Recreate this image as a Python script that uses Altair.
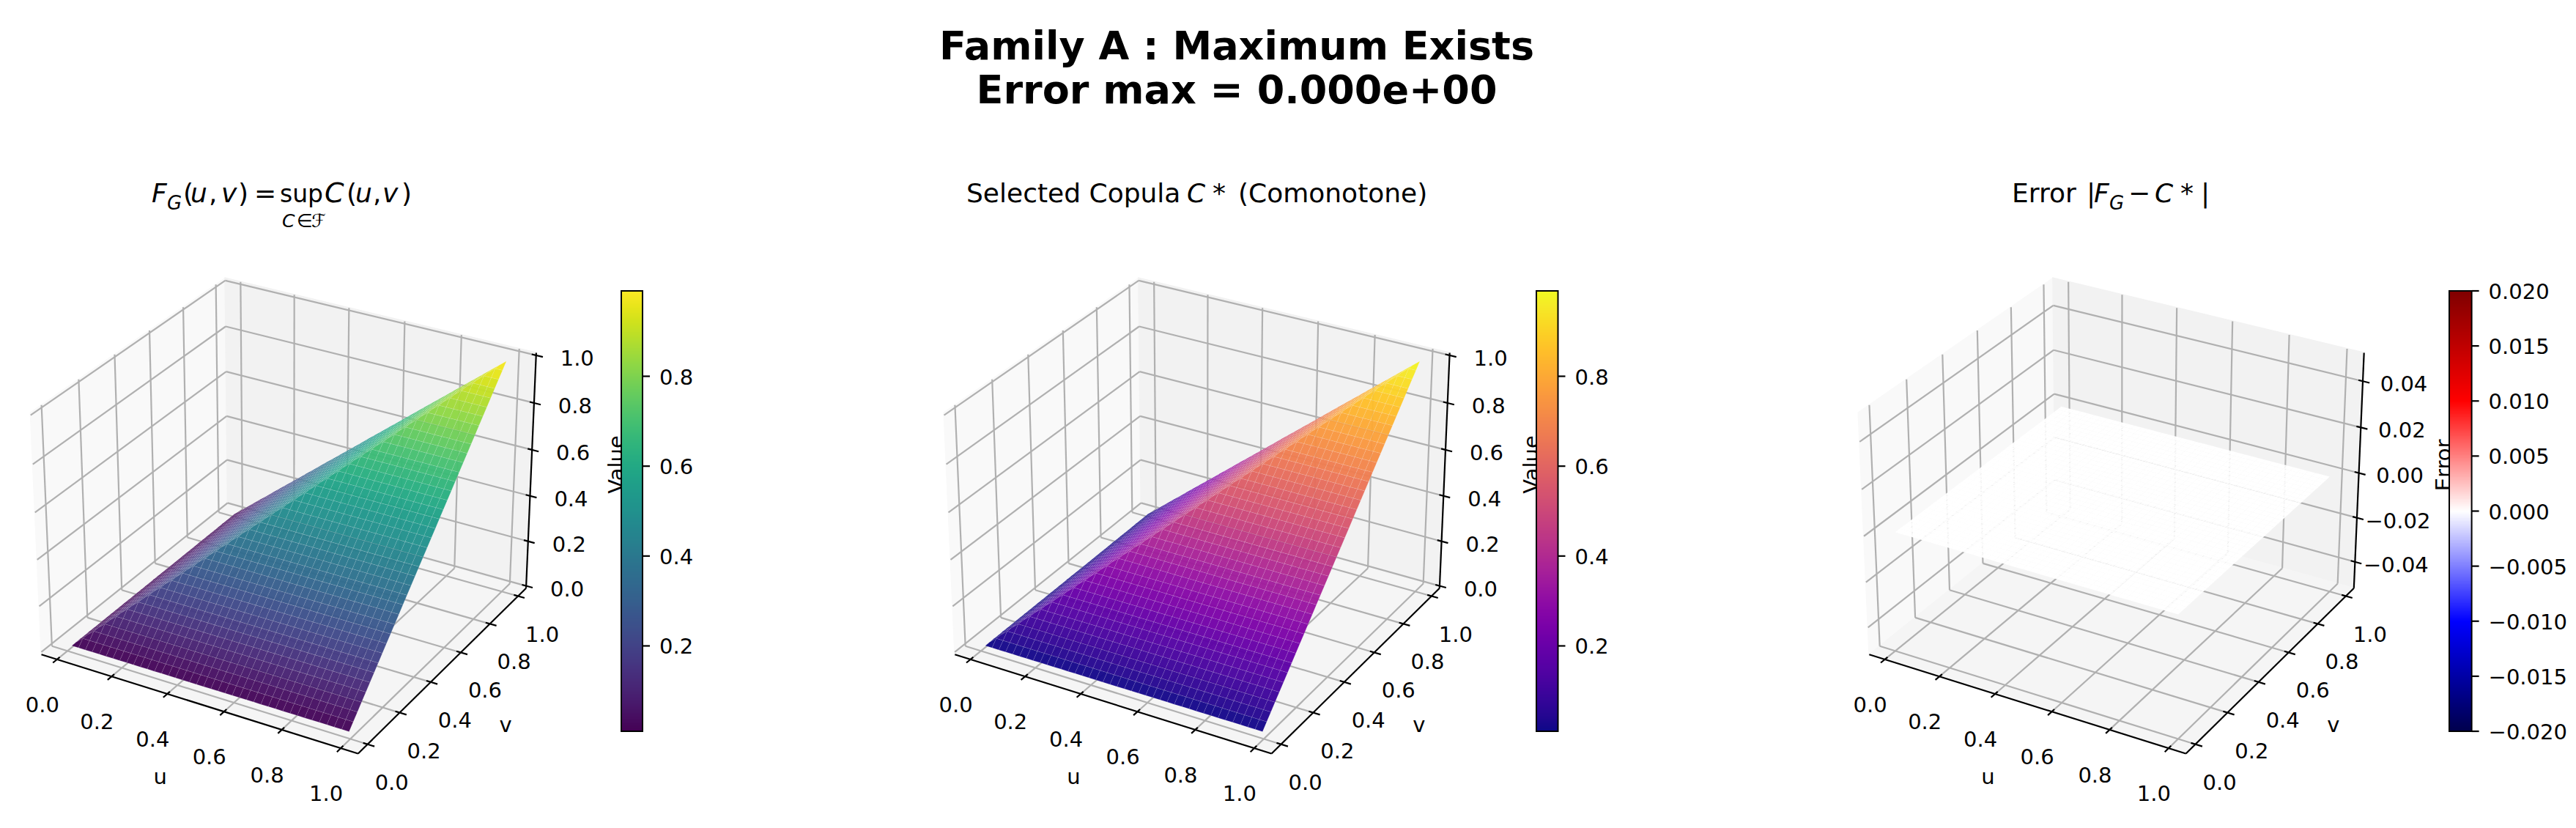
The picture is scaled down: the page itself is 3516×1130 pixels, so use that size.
import numpy as np
import pandas as pd
import altair as alt

# ---- values ----
GRID = [0.01, 0.035, 0.060, 0.085, 0.111, 0.136, 0.161, 0.186, 0.211, 0.236,
        0.261, 0.286, 0.312, 0.337, 0.362, 0.387, 0.412, 0.437, 0.462, 0.487,
        0.513, 0.538, 0.563, 0.588, 0.613, 0.638, 0.663, 0.688, 0.714, 0.739,
        0.764, 0.789, 0.814, 0.839, 0.864, 0.889, 0.915, 0.940, 0.965, 0.99]
UV_TICKS = [0.0, 0.2, 0.4, 0.6, 0.8, 1.0]
Z_TICKS_A = [0.0, 0.2, 0.4, 0.6, 0.8, 1.0]
Z_TICKS_E = [-0.04, -0.02, 0.0, 0.02, 0.04]
CB_TICKS_A = [0.2, 0.4, 0.6, 0.8]
CB_TICKS_E = [-0.02, -0.015, -0.01, -0.005, 0.0, 0.005, 0.01, 0.015, 0.02]
XY_LIM = (-0.058, 1.058)
Z_LIM_A = (-0.0104, 1.0104)
Z_LIM_E = (-0.0521, 0.0521)
CB_DOM_A = [0.01, 0.99]
CB_DOM_E = [-0.02, 0.02]
SEISMIC_DOM = [-0.02, -0.01, 0.0, 0.01, 0.02]
SEISMIC_RANGE = ["#00004c", "#0000ff", "#ffffff", "#ff0000", "#7f0000"]

# ---- layout (pixels of the 3516x1130 page) ----
W, H = 3500, 1114
FONT = "DejaVu Sans"
OFFSETS = [0.0, 1246.8, 2494.8]
CB_X = [(848, 877), (2097, 2126.5), (3343, 3373.6)]
CB_Y = (397, 998)
GRID_C, AXIS_C = "#b0b0b0", "#000000"
ELEV = np.radians(28.5)
AZIM = np.radians(-60)
DIST = 10.0

box = np.array([4.0, 4.0, 3.0])
box *= 1.8294640721620434 * 25 / 24 / np.linalg.norm(box)
R = box / 2
wv = np.array([np.cos(ELEV) * np.cos(AZIM), np.cos(ELEV) * np.sin(AZIM), np.sin(ELEV)])
uv = np.cross([0, 0, 1.0], wv)
uv /= np.linalg.norm(uv)
vv = np.cross(wv, uv)


def camera(q):
    """q: unit-cube coordinates 0..1; returns perspective coordinates and depth."""
    p = np.asarray(q, float) * box - R
    d = DIST - p @ wv
    return (p @ uv) / d, (p @ vv) / d, d


# screen fit from six box corners measured on the first panel
CAL_Q = [(0, 0, 0), (1, 0, 0), (1, 1, 0), (1, 1, 1), (0, 1, 1), (0, 0, 1)]
CAL_X = [55.7, 489.0, 717.7, 732.3, 306.7, 42.7]
CAL_Y = [894.0, 1027.7, 803.0, 480.0, 380.0, 564.0]
cam = [camera(q) for q in CAL_Q]
ax_, bx_ = np.polyfit([c[0] for c in cam], CAL_X, 1)
ay_, by_ = np.polyfit([c[1] for c in cam], CAL_Y, 1)


def to_screen(u, v, z, zlim, off):
    q = ((u - XY_LIM[0]) / (XY_LIM[1] - XY_LIM[0]),
         (v - XY_LIM[0]) / (XY_LIM[1] - XY_LIM[0]),
         (z - zlim[0]) / (zlim[1] - zlim[0]))
    xp, yp, d = camera(q)
    return ax_ * xp + bx_ + off, ay_ * yp + by_, d


def gc(x, y):  # page pixel -> geoshape coordinate
    return [round(float(x - 8), 2), round(float(y - 8), 2)]


def poly(points, **props):
    ring = [gc(*p) for p in points]
    ring.append(ring[0])
    return {"type": "Feature", "properties": props,
            "geometry": {"type": "Polygon", "coordinates": [ring]}}


sx = alt.Scale(domain=[8, 8 + W], nice=False, zero=False)
sy = alt.Scale(domain=[8 + H, 8], nice=False, zero=False)

pane_feats = [poly([(8, 8), (8 + W, 8), (8 + W, 8 + H), (8, 8 + H)], fill="transparent")]
grid_rows, axis_rows, texts = [], [], []


def seg(rows, a, b):
    rows.append({"x": a[0], "y": a[1], "x2": b[0], "y2": b[1]})


def build_axes(off, z_ticks, zlim, zfmt):
    xa, xb = XY_LIM
    za, zb = zlim
    S = lambda u, v, z: to_screen(u, v, z, zlim, off)[:2]
    pane_feats.append(poly([S(xa, xa, za), S(xa, xb, za), S(xa, xb, zb), S(xa, xa, zb)], fill="#f9f9f9"))
    pane_feats.append(poly([S(xa, xb, za), S(xb, xb, za), S(xb, xb, zb), S(xa, xb, zb)], fill="#f2f2f2"))
    pane_feats.append(poly([S(xa, xa, za), S(xb, xa, za), S(xb, xb, za), S(xa, xb, za)], fill="#f5f5f5"))
    for t in UV_TICKS:
        seg(grid_rows, S(t, xa, za), S(t, xb, za))
        seg(grid_rows, S(t, xb, za), S(t, xb, zb))
        seg(grid_rows, S(xb, t, za), S(xa, t, za))
        seg(grid_rows, S(xa, t, za), S(xa, t, zb))
    for t in z_ticks:
        seg(grid_rows, S(xa, xa, t), S(xa, xb, t))
        seg(grid_rows, S(xa, xb, t), S(xb, xb, t))
    seg(axis_rows, S(xa, xa, za), S(xb, xa, za))
    seg(axis_rows, S(xb, xa, za), S(xb, xb, za))
    seg(axis_rows, S(xb, xb, za), S(xb, xb, zb))
    outw, inw = 0.023, 0.015
    for t in UV_TICKS:
        seg(axis_rows, S(t, xa - outw, za), S(t, xa + inw, za))
        seg(axis_rows, S(xb + outw, t, za), S(xb - inw, t, za))
        p = S(t, xa, za)
        texts.append(dict(text=f"{t:.1f}", x=p[0] - 20, y=p[1] + 63, size=29))
        p = S(xb, t, za)
        texts.append(dict(text=f"{t:.1f}", x=p[0] + 33, y=p[1] + 53, size=29))
    for t in z_ticks:
        seg(axis_rows, S(xb + outw, xb, t), S(xb - inw, xb, t))
        p = S(xb, xb, t)
        texts.append(dict(text=zfmt(t), x=p[0] + 56, y=p[1] + 5, size=29))


fa = lambda t: f"{t:.1f}"
fe = lambda t: f"{t:.2f}".replace("-", "\u2212")
build_axes(OFFSETS[0], Z_TICKS_A, Z_LIM_A, fa)
build_axes(OFFSETS[1], Z_TICKS_A, Z_LIM_A, fa)
build_axes(OFFSETS[2], Z_TICKS_E, Z_LIM_E, fe)

for off in OFFSETS:
    texts.append(dict(text="u", x=218.7 + off, y=1061, size=29))
    texts.append(dict(text="v", x=690 + off, y=990, size=29))


def surface(off, zlim, zfun):
    g = np.array(GRID)
    cells = []
    for i in range(len(g) - 1):
        for j in range(len(g) - 1):
            corners = [(g[i], g[j]), (g[i + 1], g[j]), (g[i + 1], g[j + 1]), (g[i], g[j + 1])]
            zs = [zfun(a, b) for a, b in corners]
            sc = [to_screen(a, b, z, zlim, off) for (a, b), z in zip(corners, zs)]
            cells.append((np.mean([s[2] for s in sc]), [s[:2] for s in sc], float(np.mean(zs))))
    cells.sort(key=lambda c: -c[0])
    return [poly(c[1], val=round(c[2], 4)) for c in cells]


def surf_layer(feats, scale):
    return (alt.Chart(alt.Data(values=feats))
            .mark_geoshape(fillOpacity=0.96, stroke="white", strokeWidth=1.0, strokeOpacity=0.09)
            .encode(color=alt.Color("properties.val:Q", scale=scale, legend=None))
            .project(type="identity"))


def cb_layers(i, scale, dom):
    x0, x1 = CB_X[i]
    y0, y1 = CB_Y
    rows = []
    for y in range(y0, y1, 2):
        rows.append(dict(x=x0, x2=x1, y=y, y2=min(y + 2, y1),
                         val=dom[1] - (y + 1 - y0) / (y1 - y0) * (dom[1] - dom[0])))
    strip = (alt.Chart(pd.DataFrame(rows)).mark_rect()
             .encode(x=alt.X("x:Q", scale=sx, axis=None), x2="x2:Q",
                     y=alt.Y("y:Q", scale=sy, axis=None), y2="y2:Q",
                     color=alt.Color("val:Q", scale=scale, legend=None)))
    frame = (alt.Chart(pd.DataFrame([dict(x=x0, x2=x1, y=y0, y2=y1)]))
             .mark_rect(fillOpacity=0, stroke="black", strokeWidth=2)
             .encode(x=alt.X("x:Q", scale=sx, axis=None), x2="x2:Q",
                     y=alt.Y("y:Q", scale=sy, axis=None), y2="y2:Q"))
    return [strip, frame]


cb_texts, cb_tick_rows = [], []
for i, (ticks, dom, fmt) in enumerate([(CB_TICKS_A, CB_DOM_A, fa), (CB_TICKS_A, CB_DOM_A, fa),
                                       (CB_TICKS_E, CB_DOM_E, lambda t: f"{t:.3f}".replace("-", "\u2212"))]):
    x0, x1 = CB_X[i]
    for t in ticks:
        y = CB_Y[1] - (t - dom[0]) / (dom[1] - dom[0]) * (CB_Y[1] - CB_Y[0])
        seg(cb_tick_rows, (x1, y), (x1 + 10, y))
        cb_texts.append(dict(text=fmt(t), x=x1 + 23, y=y + 2, size=29))


def rule_layer(rows, color, width):
    return (alt.Chart(pd.DataFrame(rows)).mark_rule(color=color, strokeWidth=width)
            .encode(x=alt.X("x:Q", scale=sx, axis=None), x2="x2:Q",
                    y=alt.Y("y:Q", scale=sy, axis=None), y2="y2:Q"))


def text_layer(rows, align="center", baseline="middle", style="normal", weight="normal", angle=0):
    return (alt.Chart(pd.DataFrame(rows))
            .mark_text(font=FONT, align=align, baseline=baseline, fontStyle=style,
                       fontWeight=weight, angle=angle, color="black")
            .encode(x=alt.X("x:Q", scale=sx, axis=None), y=alt.Y("y:Q", scale=sy, axis=None),
                    text="text:N", size=alt.Size("size:Q", scale=None)))


# title pieces: mathtext is set as separate runs of upright and italic text
TY, SUBY, SS = 276, 286, 26
SY = 310
T_NORMAL = [
    ("(", 250, TY, 36), (",", 285, TY, 36), (")", 325, TY, 36), ("=", 347, TY, 36),
    ("sup", 382, TY, 33), ("(", 473, TY, 36), (",", 509, TY, 36), (")", 548, TY, 36),
    ("\u2208", 405, SY, 25), ("\u2131", 425, SY, 25),
    ("Selected Copula ", 1319, TY, 36), ("*", 1655, TY, 36), ("(Comonotone)", 1690, TY, 36),
    ("Error", 2746, TY, 36), ("|", 2848, TY, 36), ("\u2212", 2905, TY, 36), ("*", 2976, TY, 36), ("|", 3004, TY, 36),
]
T_ITALIC = [
    ("F", 207, TY, 36), ("G", 228, SUBY, SS), ("u", 260, TY, 36), ("v", 302, TY, 36),
    ("C", 443, TY, 38), ("u", 485, TY, 36), ("v", 522, TY, 36), ("C", 385, SY, 25),
    ("C", 1620, TY, 36),
    ("F", 2858, TY, 36), ("G", 2879, SUBY, SS), ("C", 2941, TY, 36),
]
mk = lambda lst: [dict(text=t, x=x, y=y, size=s) for t, x, y, s in lst]
SUPTITLE = [dict(text="Family A : Maximum Exists", x=1688, y=65, size=54),
            dict(text="Error max = 0.000e+00", x=1688, y=125, size=54)]
ZLABELS = [dict(text="Value", x=842, y=634, size=29), dict(text="Value", x=842 + 1248.7, y=634, size=29),
           dict(text="Error", x=3336, y=635, size=29)]

viridis = alt.Scale(scheme="viridis", domain=CB_DOM_A)
plasma = alt.Scale(scheme="plasma", domain=CB_DOM_A)
seismic = alt.Scale(domain=SEISMIC_DOM, range=SEISMIC_RANGE, interpolate="rgb")

zmin = lambda a, b: min(a, b)
zzero = lambda a, b: 0.0

panes = (alt.Chart(alt.Data(values=pane_feats))
         .mark_geoshape(strokeWidth=2)
         .encode(fill=alt.Fill("properties.fill:N", scale=None),
                 stroke=alt.Stroke("properties.fill:N", scale=None))
         .project(type="identity"))

layers = [panes, rule_layer(grid_rows, GRID_C, 2.2), rule_layer(axis_rows, AXIS_C, 2.2),
          text_layer(texts), text_layer(ZLABELS, angle=270),
          surf_layer(surface(OFFSETS[0], Z_LIM_A, zmin), viridis),
          surf_layer(surface(OFFSETS[1], Z_LIM_A, zmin), plasma),
          surf_layer(surface(OFFSETS[2], Z_LIM_E, zzero), seismic)]
layers += cb_layers(0, viridis, CB_DOM_A) + cb_layers(1, plasma, CB_DOM_A) + cb_layers(2, seismic, CB_DOM_E)
layers += [rule_layer(cb_tick_rows, AXIS_C, 2.2), text_layer(cb_texts, align="left"),
           text_layer(mk(T_NORMAL), align="left", baseline="alphabetic"),
           text_layer(mk(T_ITALIC), align="left", baseline="alphabetic", style="italic"),
           text_layer(SUPTITLE, weight="bold")]

chart = (alt.layer(*layers)
         .resolve_scale(color="independent")
         .properties(width=W, height=H, padding=0, background="white", autosize=alt.AutoSizeParams(type="none"))
         .configure_view(stroke=None))
chart.save("out.html", embed_options={"renderer": "svg", "actions": False})
